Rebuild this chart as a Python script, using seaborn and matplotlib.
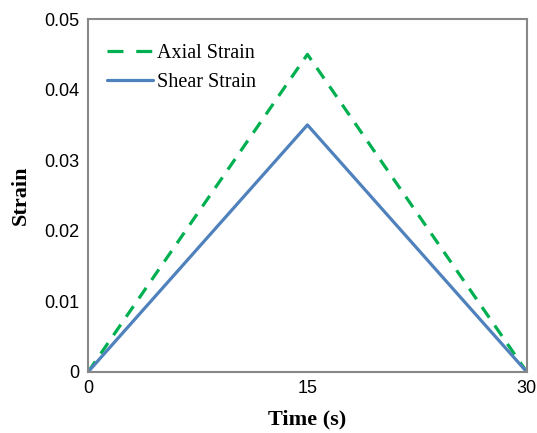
import matplotlib
matplotlib.use("Agg")
import matplotlib.pyplot as plt
import seaborn as sns
import pandas as pd

time_s = [0, 15, 30]
axial_strain = [0, 0.045, 0]
shear_strain = [0, 0.035, 0]
series_names = ["Axial Strain", "Shear Strain"]
x_ticks = [0, 15, 30]
y_ticks = [0, 0.01, 0.02, 0.03, 0.04, 0.05]
y_tick_labels = ["0", "0.01", "0.02", "0.03", "0.04", "0.05"]

df = pd.DataFrame({
    "Time": time_s * 2,
    "Strain": axial_strain + shear_strain,
    "Series": [series_names[0]] * 3 + [series_names[1]] * 3,
})

sns.set_style("white")
fig = plt.figure(figsize=(5.37, 4.33), dpi=100)
ax = fig.add_axes([0.164, 0.141, 0.817, 0.815])

sns.lineplot(data=df, x="Time", y="Strain", hue="Series", style="Series",
             palette={"Axial Strain": "#00B050", "Shear Strain": "#4F81BD"},
             dashes={"Axial Strain": (4, 3), "Shear Strain": ""},
             linewidth=2.3, ax=ax, legend=True)

ax.set_xlim(0, 30)
ax.set_ylim(0, 0.05)
ax.set_xticks(x_ticks)
ax.set_xticklabels([str(t) for t in x_ticks], fontsize=13, family="Liberation Sans", color="black")
ax.set_yticks(y_ticks)
ax.set_yticklabels(y_tick_labels, fontsize=13, family="Liberation Sans", color="black")
ax.tick_params(direction="in", length=5, color="#888888", width=1, pad=6)
for s in ax.spines.values():
    s.set_color("#888888")
    s.set_linewidth(1.5)

ax.set_xlabel("Time (s)", fontsize=16, fontweight="bold", family="Liberation Serif",
              color="black", labelpad=9)
ax.set_ylabel("Strain", fontsize=16, fontweight="bold", family="Liberation Serif",
              color="black", labelpad=10)

leg = ax.legend(loc="upper left", frameon=False, prop={"family": "Liberation Serif", "size": 14.5},
                handlelength=2.3, borderaxespad=0, borderpad=0, labelspacing=0.5,
                handletextpad=0.2, bbox_to_anchor=(0.043, 0.93))
for t in leg.get_texts():
    t.set_color("black")
leg.get_lines()[0].set_dashes((5, 4))

fig.savefig("out.png", dpi=100)
